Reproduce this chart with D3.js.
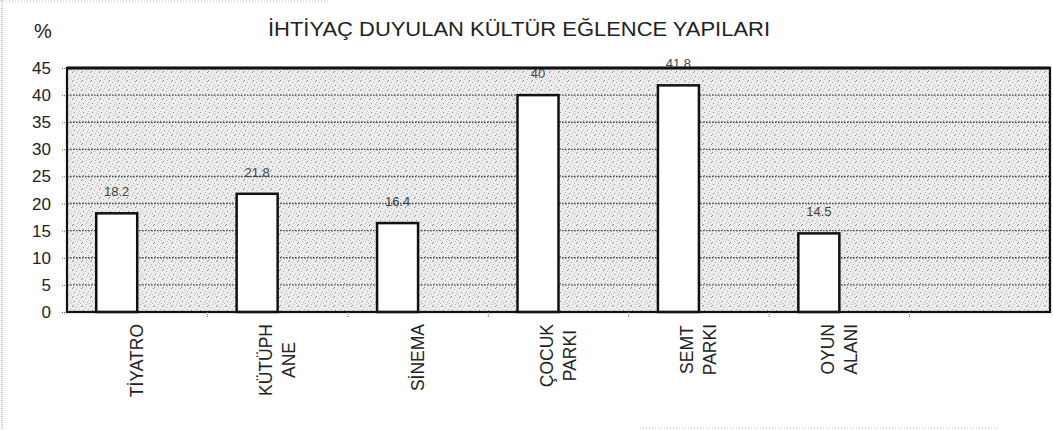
<!DOCTYPE html>
<html><head><meta charset="utf-8">
<script src="https://cdn.jsdelivr.net/npm/d3@7"></script>
<style>body{margin:0;background:#fff}svg{display:block}text{font-family:"Liberation Sans",Arial,sans-serif}</style>
</head><body>
<svg id="c" width="1053" height="430"></svg>
<script>
const categories = ["TİYATRO", "KÜTÜPH\nANE", "SİNEMA", "ÇOCUK\nPARKI", "SEMT\nPARKI", "OYUN\nALANI", ""];
const values = [18.2, 21.8, 16.4, 40, 41.8, 14.5, null];
const valueLabels = ["18.2", "21.8", "16.4", "40", "41.8", "14.5", ""];
const yTicks = [0, 5, 10, 15, 20, 25, 30, 35, 40, 45];
const title = "İHTİYAÇ DUYULAN KÜLTÜR EĞLENCE YAPILARI";
const unitLabel = "%";

const svg = d3.select("#c");
const m = {l: 67, r: 1050, t: 68, b: 312};

// speckle texture
const defs = svg.append("defs");
const pat = defs.append("pattern").attr("id","sp").attr("width",9).attr("height",9).attr("patternUnits","userSpaceOnUse");
pat.append("rect").attr("width",9).attr("height",9).attr("fill","#ececec");
[[0,0],[4,1],[7,3],[2,4],[5,7],[8,6],[1,8],[6,5]].forEach(([a,b],i)=>pat.append("rect").attr("x",a).attr("y",b).attr("width",1).attr("height",1).attr("fill", i%3===0?"#8a8a8a":"#b5b5b5"));

// page border artefacts
svg.append("line").attr("x1",2).attr("x2",2).attr("y1",0).attr("y2",430).attr("stroke","#999").attr("stroke-dasharray","1,1");
svg.append("line").attr("x1",0).attr("x2",330).attr("y1",1).attr("y2",1).attr("stroke","#bbb").attr("stroke-dasharray","1,2");
svg.append("line").attr("x1",640).attr("x2",1000).attr("y1",428).attr("y2",428).attr("stroke","#bbb").attr("stroke-dasharray","1,2");

const x = d3.scaleBand().domain(categories.map((c,i)=>i)).range([m.l, m.r]).padding(0);
const y = d3.scaleLinear().domain([0,45]).range([m.b, m.t]);

svg.append("rect").attr("x",m.l).attr("y",m.t).attr("width",m.r-m.l).attr("height",m.b-m.t).attr("fill","url(#sp)");

// gridlines
svg.append("g").selectAll("line").data(yTicks.filter(t=>t>0 && t<45)).join("line")
  .attr("x1",m.l).attr("x2",m.r).attr("y1",d=>y(d)).attr("y2",d=>y(d))
  .attr("stroke","#444").attr("stroke-width",1.4).attr("stroke-dasharray","1.5,1.5");

// y axis
const ya = svg.append("g").attr("transform",`translate(${m.l},0)`)
  .call(d3.axisLeft(y).tickValues(yTicks).tickSize(5).tickPadding(11));
ya.select(".domain").remove();
ya.selectAll(".tick line").attr("stroke","#666").attr("stroke-dasharray","1,1");
ya.selectAll(".tick text").attr("font-size",17).attr("fill","#222").attr("font-family","Liberation Sans, Arial");

// bars
const bw = x.bandwidth();
svg.append("g").selectAll("rect").data(values.map((v,i)=>({v,i})).filter(d=>d.v!=null)).join("rect")
  .attr("x",d=>x(d.i)+bw*0.208).attr("width",bw*0.292)
  .attr("y",d=>y(d.v)).attr("height",d=>y(0)-y(d.v))
  .attr("fill","#fff").attr("stroke","#111").attr("stroke-width",2.5);

// value labels
svg.append("g").selectAll("text").data(values.map((v,i)=>({v,i})).filter(d=>d.v!=null)).join("text")
  .attr("x",d=>x(d.i)+bw*0.354).attr("y",d=>y(d.v)-17)
  .attr("text-anchor","middle").attr("font-size",13).attr("fill","#444")
  .text(d=>valueLabels[d.i]);

// frame
svg.append("rect").attr("x",m.l).attr("y",m.t).attr("width",m.r-m.l).attr("height",m.b-m.t)
  .attr("fill","none").attr("stroke","#111").attr("stroke-width",2.2);
svg.append("line").attr("x1",m.l).attr("x2",m.r).attr("y1",m.t).attr("y2",m.t).attr("stroke","#111").attr("stroke-width",3);

// x ticks at category boundaries
svg.append("g").selectAll("line").data(categories.map((c,i)=>i).slice(1)).join("line")
  .attr("x1",d=>x(d)).attr("x2",d=>x(d)).attr("y1",m.b).attr("y2",m.b+5)
  .attr("stroke","#666").attr("stroke-dasharray","1,1");

// category labels (rotated, centered lines, block top at axis+12)
const cl = svg.append("g");
categories.forEach((c,i)=>{
  if(!c) return;
  const lines = c.split("\n");
  const g = cl.append("g").attr("transform",`translate(${x(i)+bw/2},${m.b+12}) rotate(-90)`);
  const ts = lines.map((ln,j)=>g.append("text").attr("font-size",17.5).attr("fill","#222")
     .attr("text-anchor","middle").attr("dy", (j-(lines.length-1)/2)*23 + 6).text(ln));
  const maxLen = d3.max(ts, t=>t.node().getComputedTextLength());
  ts.forEach(t=>t.attr("x", -maxLen/2));
});

// title and unit
svg.append("text").attr("x",268).attr("y",36).attr("font-size",20).attr("fill","#222")
  .attr("textLength",502).attr("lengthAdjust","spacingAndGlyphs").text(title);
svg.append("text").attr("x",34).attr("y",38).attr("font-size",20).attr("fill","#222").text(unitLabel);
</script>
</body></html>
